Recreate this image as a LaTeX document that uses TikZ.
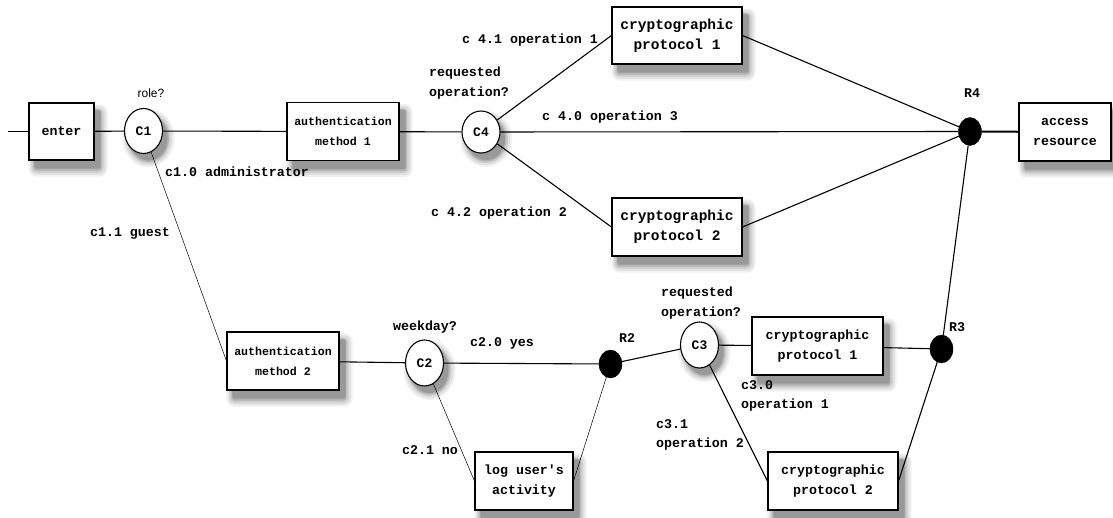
\documentclass[tikz,border=0pt]{standalone}
\usepackage{fontspec}
\setmainfont{Liberation Sans}
\setmonofont{Liberation Mono}
\usetikzlibrary{shapes.geometric,backgrounds}
\begin{document}
\begin{tikzpicture}[x=1pt,y=-1pt,
  box/.style={draw, line width=1.1pt, fill=white, inner sep=0pt, align=center,
    minimum width=130pt, minimum height=58pt, font=\ttfamily\bfseries\fontsize{13.3}{20}\selectfont},
  authbox/.style={box, minimum width=112pt, font=\ttfamily\bfseries\fontsize{11.6}{20}\selectfont},
  bigbox/.style={box, font=\ttfamily\bfseries\fontsize{14.5}{20}\selectfont},
  cond/.style={ellipse, draw, line width=1.1pt, fill=white, inner sep=0pt,
    minimum width=38pt, minimum height=45pt, font=\ttfamily\bfseries\fontsize{13}{15}\selectfont},
  junction/.style={ellipse, fill=black, draw=black, inner sep=0pt, minimum width=23pt, minimum height=28pt},
  lbl/.style={inner sep=0pt, font=\ttfamily\bfseries\fontsize{13.3}{19.5}\selectfont},
  link/.style={line width=1.1pt},
  thinlink/.style={line width=0.5pt},
  thicklink/.style={line width=2pt}]
\useasboundingbox (0,0) rectangle (1113,517);

% nodes
\coordinate (start) at (8,131.5);
\node[box, minimum width=65pt, minimum height=57pt] (enter) at (61.5,131.5) {enter};
\node[cond] (c1) at (143.5,131) {C1};
\node[authbox] (auth1) at (343,131.5) {authentication\\method 1};
\node[cond, minimum height=42pt] (c4) at (481,132) {C4};
\node[bigbox, minimum height=57pt] (cp1t) at (677,35.5) {cryptographic\\ protocol 1};
\node[bigbox] (cp2t) at (677,227) {cryptographic\\ protocol 2};
\node[junction] (r4) at (970,131.5) {};
\node[box, minimum width=92pt] (access) at (1065,132) {access\\resource};

\node[authbox] (auth2) at (283,361) {authentication\\method 2};
\node[cond, minimum height=46pt] (c2) at (424.5,363) {C2};
\node[junction] (r2) at (610.5,364) {};
\node[box, minimum width=98pt] (log) at (524,481) {log user's\\activity};
\node[cond, minimum height=46pt] (c3) at (699.5,345) {C3};
\node[box, minimum width=131pt] (cp1b) at (817.5,346) {cryptographic\\ protocol 1};
\node[junction] (r3) at (941.5,349) {};
\node[box] (cp2b) at (833,481) {cryptographic\\ protocol 2};

% blurred drop shadows
\begin{scope}[on background layer]
\foreach \n in {enter,auth1,cp1t,cp2t,access,auth2,log,cp1b,cp2b}{
  \fill[black!6, rounded corners=8pt] ([shift={(0,2)}]\n.north west) rectangle ([shift={(13,16)}]\n.south east);
  \fill[black!12, rounded corners=6pt] ([shift={(2,4)}]\n.north west) rectangle ([shift={(11,14)}]\n.south east);
  \fill[black!20, rounded corners=5pt] ([shift={(3,6)}]\n.north west) rectangle ([shift={(9,12)}]\n.south east);
  \fill[black!30, rounded corners=3pt] ([shift={(5,7)}]\n.north west) rectangle ([shift={(7,10)}]\n.south east);
  \fill[black!40, rounded corners=2pt] ([shift={(6,8)}]\n.north west) rectangle ([shift={(6,8)}]\n.south east);
}
\foreach \n/\ry in {c1/22.5,c4/21,c2/23,c3/23}{
  \fill[black!6] ([shift={(5,7)}]\n.center) ellipse [x radius=26, y radius=\ry+7];
  \fill[black!12] ([shift={(5,7)}]\n.center) ellipse [x radius=24, y radius=\ry+5];
  \fill[black!20] ([shift={(5,7)}]\n.center) ellipse [x radius=22, y radius=\ry+3];
  \fill[black!30] ([shift={(5,7)}]\n.center) ellipse [x radius=20.5, y radius=\ry+1.5];
  \fill[black!40] ([shift={(5,7)}]\n.center) ellipse [x radius=19, y radius=\ry];
}
\end{scope}

% connectors
\draw[link] (start) -- (enter);
\draw[link] (enter) -- (c1);
\draw[link] (c1) -- (auth1);
\draw[link] (auth1) -- (c4);
\draw[link] (c4) -- (cp1t.west);
\draw[link] (c4) -- (r4);
\draw[link] (c4) -- (cp2t.west);
\draw[link] (cp1t.east) -- (r4);
\draw[link] (cp2t.east) -- (r4);
\draw[thicklink] (r4) -- (access);
\draw[link] (r4) -- (r3);
\draw[thinlink] (c1) -- (auth2.west);
\draw[link] (auth2) -- (c2);
\draw[link] (c2) -- (r2);
\draw[thinlink] (c2) -- (log.west);
\draw[thinlink] (log.east) -- (r2);
\draw[link] (r2) -- (c3);
\draw[link] (c3) -- (cp1b);
\draw[link] (cp1b) -- (r3);
\draw[link] (c3) -- (cp2b.west);
\draw[link] (cp2b.east) -- (r3);

% labels
\node[inner sep=0pt, font=\fontsize{12}{14}\selectfont] (lrole) at (151,93) {role?};
\node[lbl, anchor=west] (l10) at (165,172) {c1.0 administrator};
\node[lbl] (l11) at (130,233) {c1.1 guest};
\node[lbl] (l41) at (530,40) {c 4.1 operation 1};
\node[lbl, align=left] (lq4) at (469,83) {requested\\operation?};
\node[lbl] (l40) at (610,117) {c 4.0 operation 3};
\node[lbl] (l42) at (499,213) {c 4.2 operation 2};
\node[lbl] (lr4) at (972,93) {R4};
\node[lbl] (lwd) at (425,327) {weekday?};
\node[lbl] (l20) at (502,343) {c2.0 yes};
\node[lbl] (l21) at (430,450) {c2.1 no};
\node[lbl] (lr2) at (627,338) {R2};
\node[lbl, align=left] (lq3) at (701,303) {requested\\operation?};
\node[lbl] (lr3) at (957,327) {R3};
\node[lbl, align=left] (l30) at (785,396) {c3.0\\operation 1};
\node[lbl, align=left] (l31) at (700,435) {c3.1\\operation 2};
\end{tikzpicture}
\end{document}
